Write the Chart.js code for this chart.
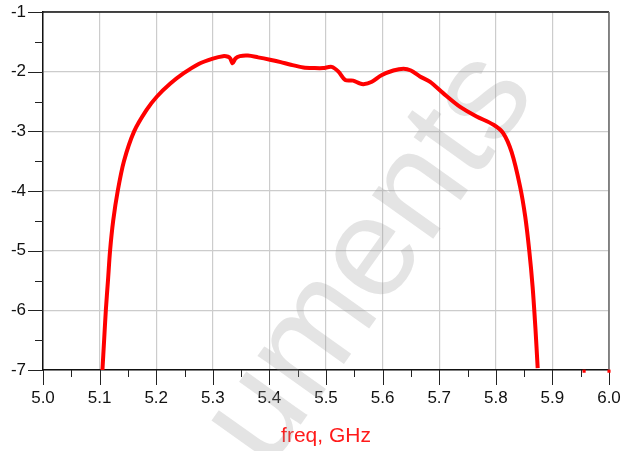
<!DOCTYPE html>
<html>
<head>
<meta charset="utf-8">
<script src="https://cdn.jsdelivr.net/npm/chart.js@4.4.1/dist/chart.umd.min.js"></script>
<style>
  html, body { margin: 0; padding: 0; background: #fff; }
  #wrap { width: 625px; height: 451px; }
</style>
</head>
<body>
<div id="wrap"><canvas id="gainChart"></canvas></div>
<script>
// S21 response (freq in GHz, gain in dB)
const freq = [5.105, 5.108, 5.111, 5.1148, 5.1185, 5.124, 5.132, 5.143, 5.161, 5.183,
  5.201, 5.225, 5.248, 5.275, 5.300, 5.318, 5.327, 5.331, 5.335,
  5.340, 5.348, 5.362, 5.380, 5.401, 5.420, 5.436, 5.460, 5.480, 5.495,
  5.510, 5.522, 5.534, 5.548, 5.558, 5.566, 5.581, 5.598, 5.619, 5.637,
  5.650, 5.666, 5.684, 5.707, 5.737, 5.766, 5.796, 5.813, 5.828, 5.843,
  5.852, 5.859, 5.865, 5.870, 5.874];
const gain = [-7.0, -6.5, -6.0, -5.5, -5.0, -4.5, -4.0, -3.5, -3.0, -2.64,
  -2.42, -2.2, -2.03, -1.87, -1.78, -1.74, -1.75, -1.78, -1.86,
  -1.78, -1.74, -1.73, -1.76, -1.80, -1.84, -1.88, -1.93, -1.94, -1.94,
  -1.92, -2.0, -2.14, -2.15, -2.19, -2.21, -2.17, -2.06, -1.98, -1.95,
  -1.98, -2.08, -2.17, -2.36, -2.59, -2.75, -2.89, -3.03, -3.35, -3.93,
  -4.43, -4.99, -5.60, -6.30, -6.97];

// points that fall below the axis floor, drawn as stubs on the bottom edge
const clipFreq = [5.956, 6.0];
const clipGain = [-7.02, -7.02];

const xTicks = ['5.0', '5.1', '5.2', '5.3', '5.4', '5.5', '5.6', '5.7', '5.8', '5.9', '6.0'];
const yTicks = [-7, -6, -5, -4, -3, -2, -1];

const isMajorX = v => Math.round(v * 20) % 2 === 0;
const isMajorY = v => Math.abs(v - Math.round(v)) < 1e-6;

// frame, outer tick marks (major + minor) and the watermark
const framePlugin = {
  id: 'frame',
  beforeDatasetsDraw(chart) {
    const { ctx, chartArea: a, scales: { x, y } } = chart;
    ctx.save();
    // tick marks
    ctx.strokeStyle = '#222';
    ctx.lineWidth = 1;
    x.ticks.forEach(t => {
      const px = Math.round(x.getPixelForValue(t.value)) + 0.5;
      const len = isMajorX(t.value) ? 15 : 7;
      ctx.beginPath();
      ctx.moveTo(px, a.bottom);
      ctx.lineTo(px, a.bottom + len);
      ctx.stroke();
    });
    y.ticks.forEach(t => {
      const py = Math.round(y.getPixelForValue(t.value)) + 0.5;
      const len = isMajorY(t.value) ? 15 : 8;
      ctx.beginPath();
      ctx.moveTo(a.left, py);
      ctx.lineTo(a.left - len, py);
      ctx.stroke();
    });
    // top + right borders
    ctx.lineWidth = 1.5;
    ctx.strokeStyle = '#111';
    ctx.beginPath();
    ctx.moveTo(a.left, a.top);
    ctx.lineTo(a.right, a.top);
    ctx.stroke();
    ctx.strokeStyle = '#666';
    ctx.beginPath();
    ctx.moveTo(a.right, a.top);
    ctx.lineTo(a.right, a.bottom);
    ctx.stroke();

    // watermark
    ctx.font = '142px "Liberation Sans", Arial, sans-serif';
    ctx.fillStyle = 'rgba(150, 150, 150, 0.26)';
    ctx.translate(260, 418);
    ctx.rotate(-54.5 * Math.PI / 180);
    ctx.textAlign = 'left';
    ctx.textBaseline = 'alphabetic';
    const uw = ctx.measureText('u').width;
    ctx.fillText('uments', -uw / 2, 142 * 0.26);
    ctx.restore();
  }
};

new Chart(document.getElementById('gainChart'), {
  type: 'line',
  data: {
    datasets: [{
      label: 'S21',
      data: freq.map((f, i) => ({ x: f, y: gain[i] })),
      borderColor: '#ff0000',
      borderWidth: 4,
      pointRadius: 0,
      tension: 0.3,
      fill: false
    }, {
      label: 'clipped',
      data: clipFreq.map((f, i) => ({ x: f, y: clipGain[i] })),
      showLine: false,
      pointStyle: 'rect',
      pointRadius: 2.2,
      pointBackgroundColor: '#ff0000',
      pointBorderWidth: 0,
      clip: false
    }]
  },
  options: {
    responsive: true,
    maintainAspectRatio: false,
    animation: false,
    layout: { padding: { top: 12, right: 16, left: 0, bottom: 0 } },
    plugins: {
      legend: { display: false },
      tooltip: { enabled: false }
    },
    scales: {
      x: {
        type: 'linear',
        min: 5.0,
        max: 6.0,
        afterFit: s => {
          s.height = 81;
          s.paddingLeft = 0;
          s.paddingRight = 0;
        },
        border: { color: '#111', width: 1.5 },
        grid: {
          drawTicks: false,
          color: ctx => isMajorX(ctx.tick.value) ? '#cccccc' : 'rgba(0,0,0,0)',
          lineWidth: 1.2
        },
        ticks: {
          stepSize: 0.05,
          autoSkip: false,
          maxRotation: 0,
          padding: 18,
          color: '#111',
          font: { family: '"Liberation Sans", Arial, sans-serif', size: 17 },
          callback: v => isMajorX(v) ? xTicks[Math.round((v - 5) * 10)] : ''
        },
        title: {
          display: true,
          text: 'freq, GHz',
          color: '#ff1a1a',
          font: { family: '"Liberation Sans", Arial, sans-serif', size: 21 },
          padding: { top: 0, bottom: 2 }
        }
      },
      y: {
        min: -7,
        max: -1,
        afterFit: s => {
          s.width = 43;
          s.paddingTop = 0;
          s.paddingBottom = 0;
        },
        border: { color: '#111', width: 1.5 },
        grid: {
          drawTicks: false,
          color: ctx => isMajorY(ctx.tick.value) ? '#cccccc' : 'rgba(0,0,0,0)',
          lineWidth: 1.2
        },
        ticks: {
          stepSize: 0.5,
          autoSkip: false,
          padding: 17,
          color: '#111',
          font: { family: '"Liberation Sans", Arial, sans-serif', size: 17 },
          callback: v => isMajorY(v) ? String(yTicks.find(t => t === Math.round(v))) : ''
        }
      }
    }
  },
  plugins: [framePlugin]
});
</script>
</body>
</html>
